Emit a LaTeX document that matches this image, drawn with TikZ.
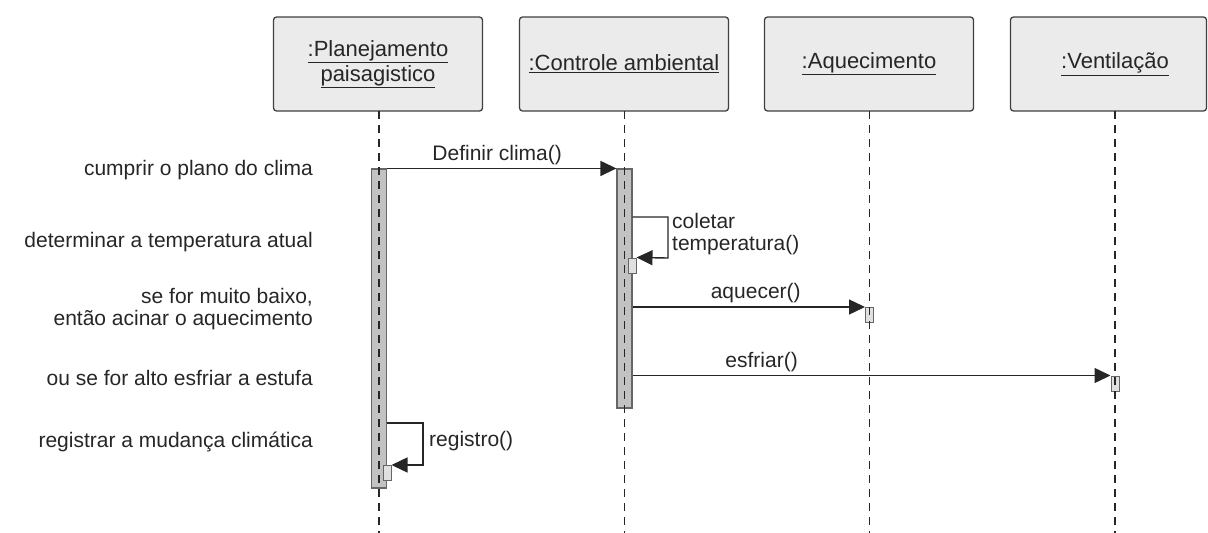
\documentclass[tikz,border=0pt]{standalone}
\usepackage{fontspec}
\setmainfont{Liberation Sans}
\usetikzlibrary{arrows.meta}
\begin{document}
\begin{tikzpicture}[x=1pt,y=-1pt,
  font=\fontsize{21}{25}\selectfont,
  every node/.style={text=black!85},
  head/.style={draw=black!75, line width=1.3pt, fill=black!8, rounded corners=3pt,
    minimum width=209pt, minimum height=94pt, align=center, inner sep=0pt,
    font=\fontsize{22}{25}\selectfont},
  lifeline/.style={draw=black!85, line width=1.5pt, dash pattern=on 8pt off 6pt},
  actbar/.style={draw=black!60, line width=1.1pt, fill=black!24, minimum width=15pt, inner sep=0pt},
  smallbox/.style={draw=black!60, line width=1pt, fill=black!12, minimum width=8pt,
    minimum height=15pt, inner sep=0pt},
  msg/.style={draw=black!85, line width=1.4pt, -{Triangle[length=16pt,width=15pt]}},
  note/.style={anchor=east, align=right, inner sep=0pt},
  lbl/.style={above, inner sep=3pt}
]
\useasboundingbox (0,0) rectangle (1208,533);

% object heads
\node[head] (h1) at (378,64) {\underline{:Planejamento}\\\underline{paisagistico}};
\node[head] (h2) at (624,64) {\underline{:Controle ambiental}};
\node[head] (h3) at (869,64) {\underline{:Aquecimento}};
\node[head, minimum width=196pt] (h4) at (1108.5,64) {\hspace*{13pt}\underline{:Ventilação}};

% lifeline end points
\coordinate (l1t) at (379,111);   \coordinate (l1b) at (379,533);
\coordinate (l2t) at (624.5,111); \coordinate (l2b) at (624.5,533);
\coordinate (l3t) at (869.5,111); \coordinate (l3b) at (869.5,533);
\coordinate (l4t) at (1115,111);  \coordinate (l4b) at (1115,533);

% activation bars
\node[actbar, minimum height=319pt] (a1) at (379,328.5) {};
\node[actbar, minimum height=239pt] (a2) at (624.5,288.5) {};

% short activations
\node[smallbox] (s1) at (632,265.5) {};
\node[smallbox] (s2) at (869.5,315) {};
\node[smallbox] (s3) at (1115,383.5) {};
\node[smallbox] (s4) at (387,473) {};

% lifelines
\draw[lifeline] (l1t) -- (l1b);
\draw[lifeline] (l2t) -- (l2b);
\draw[lifeline] (l3t) -- (l3b);
\draw[lifeline] (l4t) -- (l4b);

% messages
\draw[msg] (a1.north east) -- node[lbl, pos=0.48] {Definir clima()} (a2.north west);
\draw[msg] (a2.east |- 0,217) -| (668,258) -- (s1.north east);
\node[anchor=west, align=left, inner sep=0pt, font=\fontsize{21}{22}\selectfont] (m2) at (672,234)
  {coletar\\temperatura()};
\draw[msg] (a2.east |- s2.north) -- node[lbl, pos=0.53] {aquecer()} (s2.north west);
\draw[msg] (a2.east |- s3.north) -- node[lbl, pos=0.27] {esfriar()} (s3.north west);
\draw[msg] (a1.east |- 0,423) -| (423,465) -- (s4.north east);
\node[anchor=west, inner sep=0pt] (m5) at (429,441) {registro()};

% step descriptions
\node[note] (n1) at (313,170) {cumprir o plano do clima};
\node[note] (n2) at (313,242) {determinar a temperatura atual};
\node[note, font=\fontsize{21}{22}\selectfont] (n3) at (313,309) {se for muito baixo,\\então acinar o aquecimento};
\node[note] (n4) at (313,378) {ou se for alto esfriar a estufa};
\node[note] (n5) at (313,442) {registrar a mudança climática};
\end{tikzpicture}
\end{document}
